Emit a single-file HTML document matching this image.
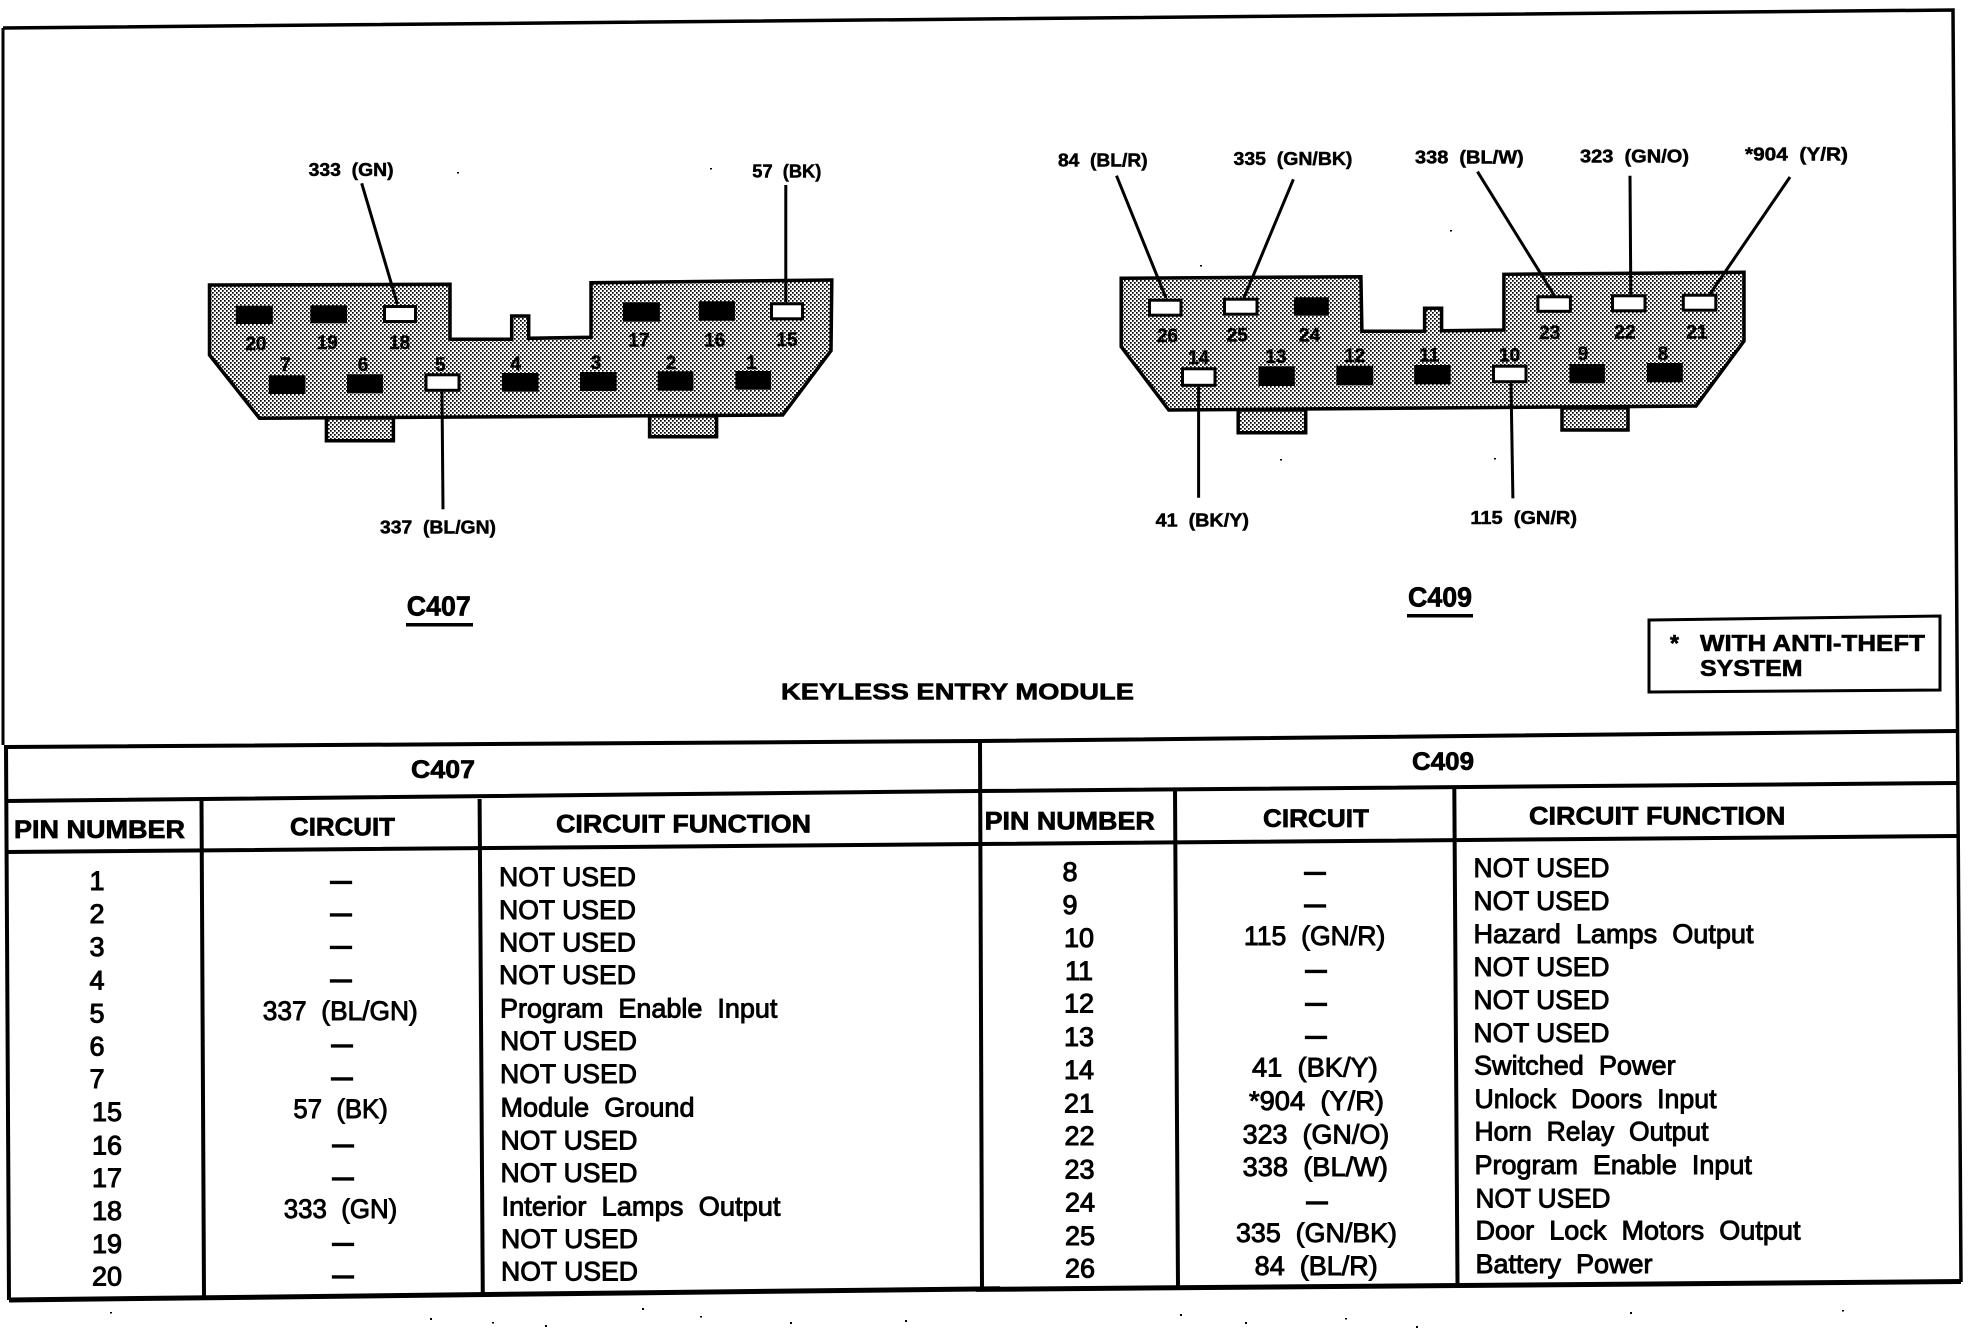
<!DOCTYPE html>
<html><head><meta charset="utf-8"><title>Keyless Entry Module</title>
<style>
html,body{margin:0;padding:0;background:#fff;width:1976px;height:1328px;overflow:hidden}
svg{display:block}
text{font-family:"Liberation Sans",sans-serif;fill:#000;white-space:pre;stroke:#000}
.lb{font-weight:bold;font-size:18.5px;stroke-width:.5}
.n{font-weight:bold;font-size:19px;stroke-width:.4;text-anchor:middle}
.t{font-weight:bold;font-size:28px;stroke-width:.7}
.h{font-weight:bold;font-size:25px;stroke-width:.7}
.k{font-weight:bold;font-size:23px;stroke-width:.6}
.p{font-size:27px;stroke-width:1;text-anchor:middle}
.f{font-size:26.5px;stroke-width:.9}
.c{font-size:26.5px;stroke-width:.9}
.d{font-weight:bold;font-size:21px;stroke-width:1.3;text-anchor:middle}
.l{stroke:#000;fill:none}
.o{stroke:#000;stroke-width:3.5;fill:url(#st)}
</style></head><body>
<svg width="1976" height="1328" viewBox="0 0 1976 1328" xmlns="http://www.w3.org/2000/svg">
<defs><pattern id="st" width="4" height="4" patternUnits="userSpaceOnUse"><rect width="4" height="4" fill="#fff"/><rect width="1.7" height="1.7" fill="#000"/><rect x="2" y="2" width="1.7" height="1.7" fill="#000"/></pattern></defs>
<rect width="1976" height="1328" fill="#fff"/>

<!-- frame -->
<g class="l" stroke-width="3.5">
<path d="M3 28L1953 10L1961 1282"/>
<path d="M3 28L3 745" stroke-width="3"/>
</g>
<g class="l" stroke-width="4">
<path d="M6 747L980 741L1957 731"/>
<path d="M6 801L979 791L1957 783"/>
<path d="M6 852L979 844L1957 836"/>
<path d="M6 745L9 1300"/>
<path d="M201.500 800L204 1298"/><path d="M479.600 799L482.800 1296"/>
<path d="M980 741L982 1290"/>
<path d="M1175 790L1178 1288"/><path d="M1454.300 788L1457.500 1285"/>
<path d="M9 1300L1000 1288.700" stroke-width="5"/><path d="M976 1289.400L1961 1281.500" stroke-width="5"/>
</g>

<!-- C407 connector -->
<path class="o" d="M326.400 418V440.700H393.400V418Z"/>
<path class="o" d="M649.600 416V436.700H716.600V416Z"/>
<path class="o" d="M209.500 285L450 284.300V339.300H511.700V316H528.700V338.300L591 337.300V282.700L831.800 280L831 350.700L782.700 415L259.500 418.300L209.500 355Z"/>
<g fill="#000">
<rect x="235.800" y="305.700" width="37" height="18.300"/><rect x="310.400" y="305.300" width="36.600" height="18"/>
<rect x="622.900" y="302.300" width="37" height="19.400"/><rect x="698.800" y="301.300" width="36.200" height="19.400"/>
<rect x="268.800" y="375.300" width="36.600" height="18.700"/><rect x="347" y="374.300" width="36" height="19"/>
<rect x="501.900" y="373" width="36.600" height="18.700"/><rect x="580" y="372" width="36.600" height="19"/>
<rect x="657.700" y="371.300" width="35.700" height="19.400"/><rect x="735.400" y="371" width="35.600" height="18.700"/>
</g>
<g fill="#fff" stroke="#000" stroke-width="3">
<rect x="384.500" y="306.500" width="31" height="15"/>
<rect x="771.500" y="303.800" width="31" height="15"/>
<rect x="426" y="374.800" width="33" height="15.500"/>
</g>
<g class="l" stroke-width="3">
<path d="M361.700 183.300L397.400 304"/><path d="M785.800 185V302.300"/><path d="M442 391.700L443 509.300"/>
</g>
<g class="n">
<text x="255.900" y="350">20</text><text x="327.300" y="349">19</text><text x="399.600" y="349">18</text>
<text x="639" y="346.500">17</text><text x="714.800" y="346.500">16</text><text x="787" y="346">15</text>
<text x="285.400" y="371">7</text><text x="363" y="371">6</text><text x="440.300" y="371">5</text><text x="515.700" y="370">4</text>
<text x="596" y="369">3</text><text x="671" y="369">2</text><text x="751.400" y="369">1</text>
</g>
<g class="lb">
<text x="308.600" y="176" textLength="85" lengthAdjust="spacingAndGlyphs">333  (GN)</text>
<text x="752.300" y="177.500" textLength="69" lengthAdjust="spacingAndGlyphs">57  (BK)</text>
<text x="380" y="533.500" textLength="116" lengthAdjust="spacingAndGlyphs">337  (BL/GN)</text>
</g>
<text class="t" x="406.800" y="615.500" textLength="64" lengthAdjust="spacingAndGlyphs">C407</text>
<rect x="406" y="623" width="67" height="3.500" fill="#000"/>

<!-- C409 connector -->
<path class="o" d="M1238.200 410V432.700H1305.700V410Z"/>
<path class="o" d="M1562 408V430H1628V408Z"/>
<path class="o" d="M1121.200 278.300L1360.900 276.700L1361.900 331.300H1424.600V308.300H1441.600V330.700L1503.900 330V274.300L1744 272.300V341L1696 406L1168.800 410L1121.200 346.700Z"/>
<g fill="#000">
<rect x="1293.900" y="297.300" width="34.900" height="18.400"/>
<rect x="1258.500" y="366.300" width="36.300" height="19.700"/><rect x="1336.400" y="365.700" width="36.800" height="19.600"/>
<rect x="1414.200" y="365" width="36.400" height="19.300"/><rect x="1569.500" y="364" width="35.400" height="19.300"/>
<rect x="1646.900" y="363" width="35.900" height="19.300"/>
</g>
<g fill="#fff" stroke="#000" stroke-width="3">
<rect x="1149.500" y="300.200" width="31.500" height="15"/>
<rect x="1224.500" y="299.200" width="32.500" height="15"/>
<rect x="1537.900" y="296.800" width="32.500" height="14.500"/>
<rect x="1612.500" y="295.800" width="32.500" height="15"/>
<rect x="1683.300" y="295.200" width="32.500" height="15"/>
<rect x="1182.500" y="368.800" width="32.500" height="16.500"/>
<rect x="1493.500" y="366.200" width="32.500" height="15.500"/>
</g>
<g class="l" stroke-width="3">
<path d="M1116.500 175.700L1166 298"/><path d="M1293.400 179.300L1243.900 298"/><path d="M1477.500 171.700L1554.400 295.700"/>
<path d="M1630 175.700L1630.800 294.300"/><path d="M1790 177L1710 294"/>
<path d="M1198.600 386.700V497.700"/><path d="M1511 383.300L1512.900 498.300"/>
</g>
<g class="n">
<text x="1167.400" y="342">26</text><text x="1237.300" y="341.500">25</text><text x="1309.500" y="341.500">24</text>
<text x="1549.700" y="339">23</text><text x="1625" y="338.500">22</text><text x="1697" y="338.500">21</text>
<text x="1198.600" y="364">14</text><text x="1276" y="363">13</text><text x="1354.800" y="362">12</text>
<text x="1429.300" y="361.500">11</text><text x="1509.600" y="361.500">10</text><text x="1583" y="360">9</text><text x="1663" y="360">8</text>
</g>
<g class="lb">
<text x="1058" y="166.500" textLength="89.600" lengthAdjust="spacingAndGlyphs">84  (BL/R)</text>
<text x="1233.500" y="165" textLength="118.900" lengthAdjust="spacingAndGlyphs">335  (GN/BK)</text>
<text x="1415" y="163.300" textLength="108.700" lengthAdjust="spacingAndGlyphs">338  (BL/W)</text>
<text x="1580" y="162.300" textLength="109" lengthAdjust="spacingAndGlyphs">323  (GN/O)</text>
<text x="1745" y="160.500" textLength="103" lengthAdjust="spacingAndGlyphs">*904  (Y/R)</text>
<text x="1155.600" y="526.700" textLength="93.400" lengthAdjust="spacingAndGlyphs">41  (BK/Y)</text>
<text x="1470.400" y="524" textLength="106.600" lengthAdjust="spacingAndGlyphs">115  (GN/R)</text>
</g>
<text class="t" x="1408" y="606.500" textLength="64" lengthAdjust="spacingAndGlyphs">C409</text>
<rect x="1407" y="614" width="66" height="3.500" fill="#000"/>

<!-- note -->
<path class="l" stroke-width="3" d="M1649 620L1940 616V690L1649 692Z"/>
<text class="k" x="1670" y="651">*</text>
<text class="k" x="1700" y="651" textLength="225" lengthAdjust="spacingAndGlyphs">WITH ANTI-THEFT</text>
<text class="k" x="1700" y="676" textLength="102.500" lengthAdjust="spacingAndGlyphs">SYSTEM</text>
<text class="k" x="781" y="699.500" textLength="353" lengthAdjust="spacingAndGlyphs">KEYLESS ENTRY MODULE</text>

<!-- C407 table -->
<g class="h">
<text x="411" y="778" textLength="64" lengthAdjust="spacingAndGlyphs">C407</text>
<text x="14" y="838" textLength="171" lengthAdjust="spacingAndGlyphs">PIN NUMBER</text>
<text x="290" y="835.500" textLength="105" lengthAdjust="spacingAndGlyphs">CIRCUIT</text>
<text x="556" y="832.500" textLength="255" lengthAdjust="spacingAndGlyphs">CIRCUIT FUNCTION</text>
</g>
<g class="p">
<text x="97" y="890">1</text><text x="97" y="923">2</text><text x="97" y="956">3</text><text x="97" y="989.500">4</text>
<text x="97" y="1022.500">5</text><text x="97" y="1055.500">6</text><text x="97" y="1088">7</text>
<text x="107" y="1121">15</text><text x="107" y="1154.500">16</text><text x="107" y="1187">17</text>
<text x="107" y="1220">18</text><text x="107" y="1253">19</text><text x="107" y="1285.500">20</text>
</g>
<g class="d">
<text x="341" y="888">—</text><text x="341" y="920.500">—</text><text x="341" y="953">—</text><text x="341" y="986.500">—</text>
<text x="342" y="1051.500">—</text><text x="342" y="1084.500">—</text><text x="343" y="1151.500">—</text><text x="343" y="1184.500">—</text>
<text x="343" y="1250">—</text><text x="343" y="1282.500">—</text>
</g>
<g class="c">
<text x="262.800" y="1020" textLength="155" lengthAdjust="spacingAndGlyphs">337  (BL/GN)</text>
<text x="293.400" y="1118" textLength="94.400" lengthAdjust="spacingAndGlyphs">57  (BK)</text>
<text x="283.800" y="1218" textLength="113.500" lengthAdjust="spacingAndGlyphs">333  (GN)</text>
</g>
<g class="f">
<text x="499" y="886" textLength="137" lengthAdjust="spacingAndGlyphs">NOT USED</text>
<text x="499" y="919" textLength="137" lengthAdjust="spacingAndGlyphs">NOT USED</text>
<text x="499" y="951.500" textLength="137" lengthAdjust="spacingAndGlyphs">NOT USED</text>
<text x="499" y="984.200" textLength="137" lengthAdjust="spacingAndGlyphs">NOT USED</text>
<text x="500" y="1017.500" textLength="277.400" lengthAdjust="spacingAndGlyphs">Program  Enable  Input</text>
<text x="500" y="1050.200" textLength="137" lengthAdjust="spacingAndGlyphs">NOT USED</text>
<text x="500" y="1083" textLength="137" lengthAdjust="spacingAndGlyphs">NOT USED</text>
<text x="500.500" y="1116.500" textLength="194" lengthAdjust="spacingAndGlyphs">Module  Ground</text>
<text x="500.500" y="1149.500" textLength="137" lengthAdjust="spacingAndGlyphs">NOT USED</text>
<text x="500.500" y="1182.200" textLength="137" lengthAdjust="spacingAndGlyphs">NOT USED</text>
<text x="501.500" y="1215.500" textLength="279" lengthAdjust="spacingAndGlyphs">Interior  Lamps  Output</text>
<text x="501" y="1248" textLength="137" lengthAdjust="spacingAndGlyphs">NOT USED</text>
<text x="501" y="1280.500" textLength="137" lengthAdjust="spacingAndGlyphs">NOT USED</text>
</g>

<!-- C409 table -->
<g class="h">
<text x="1412" y="770" textLength="62" lengthAdjust="spacingAndGlyphs">C409</text>
<text x="984.600" y="829.500" textLength="170.200" lengthAdjust="spacingAndGlyphs">PIN NUMBER</text>
<text x="1263" y="827" textLength="106" lengthAdjust="spacingAndGlyphs">CIRCUIT</text>
<text x="1529" y="824.500" textLength="256.400" lengthAdjust="spacingAndGlyphs">CIRCUIT FUNCTION</text>
</g>
<g class="p">
<text x="1070" y="881">8</text><text x="1070" y="914">9</text>
<text x="1079" y="947">10</text><text x="1079" y="980">11</text><text x="1079" y="1012.500">12</text><text x="1079" y="1046">13</text>
<text x="1079" y="1079">14</text><text x="1079" y="1112.500">21</text><text x="1079.500" y="1145">22</text><text x="1079.500" y="1178.500">23</text>
<text x="1080" y="1211.500">24</text><text x="1080" y="1245">25</text><text x="1080" y="1277.500">26</text>
</g>
<g class="d">
<text x="1315" y="879">—</text><text x="1315" y="911.500">—</text><text x="1316" y="977">—</text>
<text x="1316" y="1010">—</text><text x="1316" y="1043">—</text><text x="1317" y="1208.500">—</text>
</g>
<g class="c">
<text x="1243.900" y="945" textLength="141.500" lengthAdjust="spacingAndGlyphs">115  (GN/R)</text>
<text x="1252" y="1076.500" textLength="125.800" lengthAdjust="spacingAndGlyphs">41  (BK/Y)</text>
<text x="1249" y="1110" textLength="135" lengthAdjust="spacingAndGlyphs">*904  (Y/R)</text>
<text x="1242.600" y="1143.300" textLength="146.700" lengthAdjust="spacingAndGlyphs">323  (GN/O)</text>
<text x="1242.600" y="1176" textLength="145.400" lengthAdjust="spacingAndGlyphs">338  (BL/W)</text>
<text x="1236" y="1242" textLength="161" lengthAdjust="spacingAndGlyphs">335  (GN/BK)</text>
<text x="1254.700" y="1275" textLength="123.100" lengthAdjust="spacingAndGlyphs">84  (BL/R)</text>
</g>
<g class="f">
<text x="1473.500" y="877" textLength="136" lengthAdjust="spacingAndGlyphs">NOT USED</text>
<text x="1473.500" y="910" textLength="136" lengthAdjust="spacingAndGlyphs">NOT USED</text>
<text x="1473.500" y="943" textLength="280" lengthAdjust="spacingAndGlyphs">Hazard  Lamps  Output</text>
<text x="1473.500" y="976" textLength="136" lengthAdjust="spacingAndGlyphs">NOT USED</text>
<text x="1473.500" y="1009" textLength="136" lengthAdjust="spacingAndGlyphs">NOT USED</text>
<text x="1473.500" y="1042" textLength="136" lengthAdjust="spacingAndGlyphs">NOT USED</text>
<text x="1474" y="1074.500" textLength="201.600" lengthAdjust="spacingAndGlyphs">Switched  Power</text>
<text x="1474.500" y="1108" textLength="242" lengthAdjust="spacingAndGlyphs">Unlock  Doors  Input</text>
<text x="1474.500" y="1140.500" textLength="234" lengthAdjust="spacingAndGlyphs">Horn  Relay  Output</text>
<text x="1474.500" y="1174" textLength="277.400" lengthAdjust="spacingAndGlyphs">Program  Enable  Input</text>
<text x="1475.500" y="1207.500" textLength="135" lengthAdjust="spacingAndGlyphs">NOT USED</text>
<text x="1475.500" y="1239.500" textLength="325" lengthAdjust="spacingAndGlyphs">Door  Lock  Motors  Output</text>
<text x="1475.500" y="1273" textLength="177" lengthAdjust="spacingAndGlyphs">Battery  Power</text>
</g>

<!-- scan specks -->
<g fill="#000">
<rect x="110" y="1312" width="2" height="1.500"/><rect x="430" y="1318" width="2" height="2"/><rect x="492" y="1322" width="2" height="1.500"/>
<rect x="545" y="1325" width="2" height="2"/><rect x="642" y="1308" width="2" height="2"/><rect x="700" y="1316" width="2" height="1.500"/>
<rect x="790" y="1322" width="2" height="2"/><rect x="905" y="1320" width="2" height="2"/><rect x="1180" y="1314" width="2" height="2"/>
<rect x="1245" y="1322" width="2" height="2"/><rect x="1345" y="1318" width="2" height="1.500"/><rect x="1416" y="1326" width="2" height="2"/>
<rect x="1630" y="1312" width="2" height="2"/><rect x="1842" y="1310" width="2" height="1.500"/>
<rect x="457" y="172" width="2" height="1.500"/><rect x="710" y="168" width="2" height="1.500"/><rect x="1200" y="265" width="2" height="1.500"/>
<rect x="1450" y="230" width="2" height="1.500"/><rect x="1280" y="459" width="2" height="1.500"/><rect x="1494" y="458" width="2" height="1.500"/>
</g>
</svg>
</body></html>
